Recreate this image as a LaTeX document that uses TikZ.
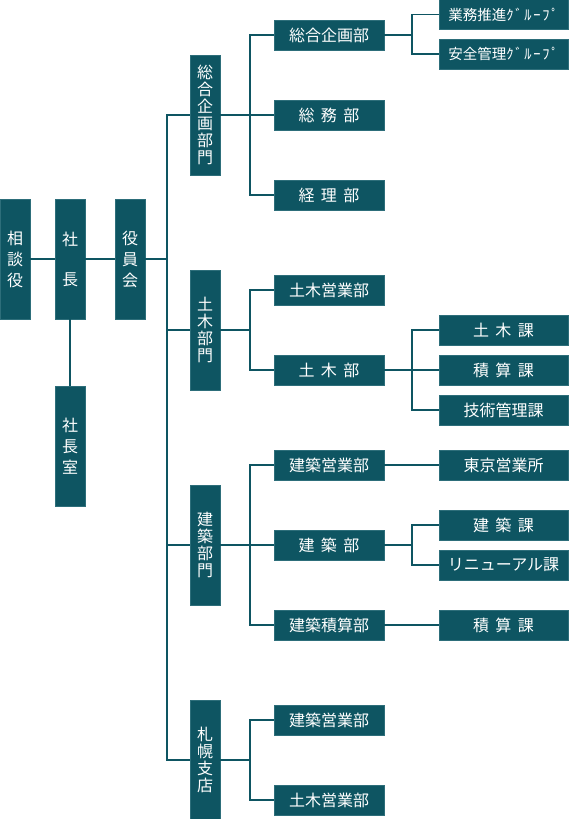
\documentclass[tikz,border=0pt]{standalone}
\usepackage{fontspec}
\usepackage{xcolor}
\usepackage{tikz}
\usetikzlibrary{positioning, calc}
\newfontfamily\jpfont{Noto Sans CJK JP}
\definecolor{boxteal}{RGB}{14,85,98}
\definecolor{tealedge}{RGB}{45,110,122}
\newcommand{\jgap}{\hspace{0.4em}}
\newcommand{\halfkana}[1]{{\addfontfeature{LetterSpace=12}#1}}
\tikzset{
  unit/.style={
    rectangle, fill=boxteal, draw=tealedge, line width=0.5pt,
    inner sep=0pt, text=white, font=\jpfont\fontsize{16}{17}\selectfont
  },
  dept/.style={unit, minimum width=110pt, minimum height=30pt},
  section/.style={unit, minimum width=129pt, minimum height=30pt},
  group/.style={section, font=\jpfont\fontsize{14.5}{17}\selectfont},
  division/.style={unit, minimum width=30pt, minimum height=120pt, align=center},
  officer/.style={division, font=\jpfont\fontsize{16}{21}\selectfont},
  link/.style={draw=boxteal, line width=1.6pt},
}

\begin{document}
\begin{tikzpicture}[x=1pt, y=-1pt]
  \useasboundingbox (0,0) rectangle (568,819);
  \coordinate (trunk) at (167,0);
  \coordinate (branch) at (250,0);
  \coordinate (sub) at (412,0);

  % executives
  \node[officer] (soudan) at (15,259) {相\\談\\役};
  \node[officer] (shacho) at (70,259) {社\\[19pt]長};
  \node[officer] (yakuin) at (130,259) {役\\員\\会};
  \node[officer] (shitsu) at (70,446) {社\\長\\室};

  % divisions
  \node[division] (kikaku) at (205,115) {総\\合\\企\\画\\部\\門};
  \node[division] (doboku) at (205,330) {土\\木\\部\\門};
  \node[division] (kenchiku) at (205,545) {建\\築\\部\\門};
  \node[division] (sapporo) at (205,760) {札\\幌\\支\\店};

  % departments
  \node[dept] (kikakubu) at (329,35) {総合企画部};
  \node[dept] (somu) at (329,115) {総\jgap 務\jgap 部};
  \node[dept] (keiri) at (329,195) {経\jgap 理\jgap 部};
  \node[dept] (dobokueigyo) at (329,290) {土木営業部};
  \node[dept] (dobokubu) at (329,370) {土\jgap 木\jgap 部};
  \node[dept] (kenchikueigyo) at (329,465) {建築営業部};
  \node[dept] (kenchikubu) at (329,545) {建\jgap 築\jgap 部};
  \node[dept] (sekisanbu) at (329,625) {建築積算部};
  \node[dept] (spkenchiku) at (329,720) {建築営業部};
  \node[dept] (spdoboku) at (329,800) {土木営業部};

  % sections
  \node[group] (gyomu) at (503.5,14.5) {業務推進\halfkana{ｸﾞﾙｰﾌﾟ}};
  \node[group] (anzen) at (503.5,54) {安全管理\halfkana{ｸﾞﾙｰﾌﾟ}};
  \node[section] (dobokuka) at (503.5,330) {土\jgap 木\jgap 課};
  \node[section] (sekisanka) at (503.5,370) {積\jgap 算\jgap 課};
  \node[section] (gijutsu) at (503.5,410) {技術管理課};
  \node[section] (tokyo) at (503.5,465) {東京営業所};
  \node[section] (kenchikuka) at (503.5,525) {建\jgap 築\jgap 課};
  \node[section] (renewal) at (503.5,565) {リニューアル課};
  \node[section] (sekisanka2) at (503.5,625) {積\jgap 算\jgap 課};

  % executive links
  \draw[link] (soudan.east) -- (shacho.west);
  \draw[link] (shacho.east) -- (yakuin.west);
  \draw[link] (shacho.south) -- (shitsu.north);
  \draw[link] (yakuin.east) -- (yakuin.east -| trunk);

  % trunk
  \draw[link] (kikaku.west) -| (sapporo.west -| trunk) -- (sapporo.west);
  \draw[link] (doboku.west) -- (doboku.west -| trunk);
  \draw[link] (kenchiku.west) -- (kenchiku.west -| trunk);

  % division branches
  \draw[link] (kikakubu.west) -| (keiri.west -| branch) -- (keiri.west);
  \draw[link] (kikaku.east) -- (somu.west);
  \draw[link] (dobokueigyo.west) -| (dobokubu.west -| branch) -- (dobokubu.west);
  \draw[link] (doboku.east) -- (doboku.east -| branch);
  \draw[link] (kenchikueigyo.west) -| (sekisanbu.west -| branch) -- (sekisanbu.west);
  \draw[link] (kenchiku.east) -- (kenchikubu.west);
  \draw[link] (spkenchiku.west) -| (spdoboku.west -| branch) -- (spdoboku.west);
  \draw[link] (sapporo.east) -- (sapporo.east -| branch);

  % section branches
  \draw[link] (gyomu.west) -| (anzen.west -| sub) -- (anzen.west);
  \draw[link] (kikakubu.east) -- (kikakubu.east -| sub);
  \draw[link] (dobokuka.west) -| (gijutsu.west -| sub) -- (gijutsu.west);
  \draw[link] (dobokubu.east) -- (sekisanka.west);
  \draw[link] (kenchikueigyo.east) -- (tokyo.west);
  \draw[link] (kenchikuka.west) -| (renewal.west -| sub) -- (renewal.west);
  \draw[link] (kenchikubu.east) -- (kenchikubu.east -| sub);
  \draw[link] (sekisanbu.east) -- (sekisanka2.west);
\end{tikzpicture}
\end{document}
